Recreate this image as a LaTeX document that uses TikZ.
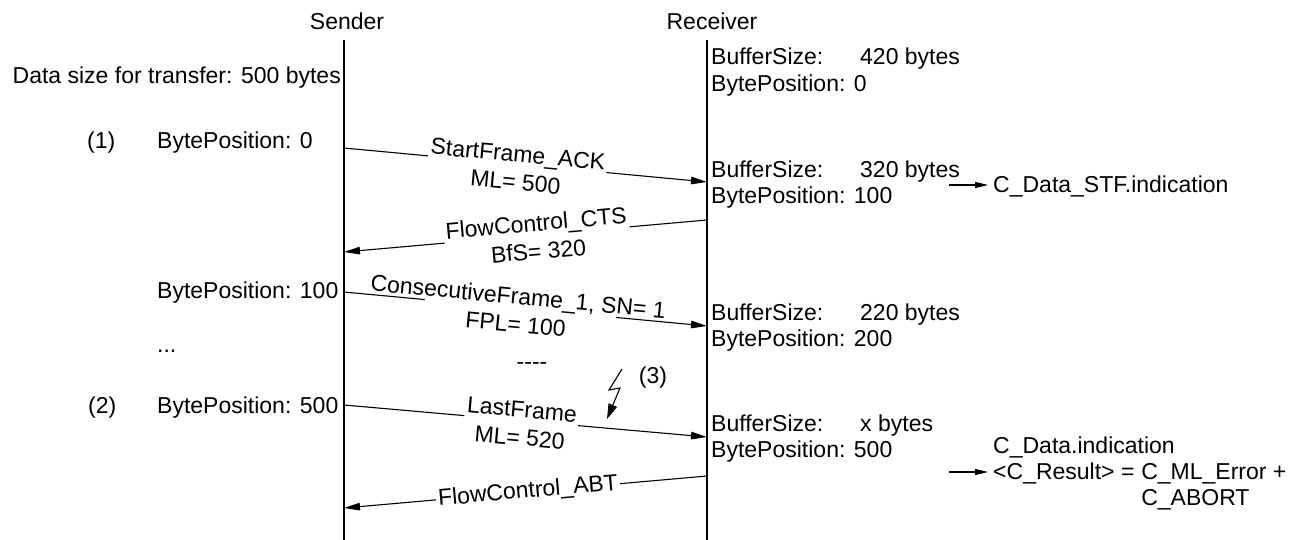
\documentclass[tikz,border=0pt]{standalone}
\usepackage{fontspec}
\setmainfont{Liberation Sans}
\usetikzlibrary{arrows.meta}
\newcommand{\bufline}[1]{\makebox[149pt][l]{BufferSize:}#1}
\begin{document}
\begin{tikzpicture}[x=1pt,y=-1pt,
  txt/.style={inner sep=0pt, font=\fontsize{23}{26}\selectfont},
  lab/.style={sloped, fill=white, inner sep=2pt, align=center, font=\fontsize{23}{26}\selectfont},
  life/.style={line width=1.8pt},
  msg/.style={line width=1.1pt, -{Triangle[length=16pt,width=7.5pt]}},
  ind/.style={line width=1.1pt, -{Triangle[length=13pt,width=6pt]}},
  bolt/.style={line width=1.1pt, -{Triangle[length=15pt,width=9pt]}}
]
\useasboundingbox (0,0) rectangle (1303,540);

% lifelines
\coordinate (sT) at (344,40); \coordinate (sB) at (344,540);
\coordinate (rT) at (707,40); \coordinate (rB) at (707,540);
\draw[life] (sT) -- (sB);
\draw[life] (rT) -- (rB);
\node[txt, anchor=base] (sender) at (347,30) {Sender};
\node[txt, anchor=base] (receiver) at (712,30) {Receiver};

% sender side texts
\node[txt, anchor=base east] (datasize) at (341,84) {Data size for transfer: 500 bytes};
\node[txt, anchor=base west] (n1) at (87,149) {(1)};
\node[txt, anchor=base west] (bp0) at (157,149) {BytePosition: 0};
\node[txt, anchor=base west] (bp100) at (157,298) {BytePosition: 100};
\node[txt, anchor=base west] (dots) at (157,352) {...};
\node[txt, anchor=base west] (n2) at (88,413) {(2)};
\node[txt, anchor=base west] (bp500) at (157,413) {BytePosition: 500};

% receiver side texts
\node[txt, anchor=base west] (r1a) at (711,65) {\bufline{420 bytes}};
\node[txt, anchor=base west] (r1b) at (711,92) {BytePosition: 0};
\node[txt, anchor=base west] (r2a) at (711,178) {\bufline{320 bytes}};
\node[txt, anchor=base west] (r2b) at (711,204) {BytePosition: 100};
\node[txt, anchor=base west] (r3a) at (711,320) {\bufline{220 bytes}};
\node[txt, anchor=base west] (r3b) at (711,346) {BytePosition: 200};
\node[txt, anchor=base west] (r4a) at (711,431) {\bufline{x bytes}};
\node[txt, anchor=base west] (r4b) at (711,457) {BytePosition: 500};

% indications
\coordinate (i1s) at (949,185); \coordinate (i1e) at (988,185);
\draw[ind] (i1s) -- (i1e);
\node[txt, anchor=base west] (stf) at (993,193) {C\_Data\_STF.indication};
\node[txt, anchor=base west] (cdi) at (993,453) {C\_Data.indication};
\node[txt, anchor=base west] (cres) at (993,479) {<C\_Result> =};
\node[txt, anchor=base west] (cml) at ([xshift=6.4pt]cres.base east) {C\_ML\_Error +};
\node[txt, anchor=base west] (cab) at ([yshift=-26pt]cml.base west) {C\_ABORT};
\coordinate (i2s) at (949,472); \coordinate (i2e) at (988,472);
\draw[ind] (i2s) -- (i2e);

% message anchors on lifelines
\coordinate (s1) at (344,148); \coordinate (r1) at (707,182);
\coordinate (r2) at (707,220); \coordinate (s2) at (344,252);
\coordinate (s3) at (344,292); \coordinate (r3) at (707,326);
\coordinate (s4) at (344,405); \coordinate (r4) at (707,437);
\coordinate (r5) at (707,476); \coordinate (s5) at (344,508);

\draw[msg] (s1) -- (r1) node[lab, pos=0.477, yshift=-4pt] (m1) {StartFrame\_ACK\\[2pt]ML= 500};
\draw[msg] (r2) -- (s2) node[lab, pos=0.468, yshift=-2pt] (m2) {FlowControl\_CTS\\[2pt]BfS= 320};
\draw[msg] (s3) -- (r3)
  node[sloped, pos=0.486, fill=white, minimum width=192pt, minimum height=9pt, inner sep=0pt] (m3w) {}
  node[lab, fill=none, pos=0.477, yshift=-2pt] (m3) {ConsecutiveFrame\_1, SN= 1\\[2pt]FPL= 100};
\draw[msg] (s4) -- (r4) node[lab, pos=0.488, yshift=-3pt] (m4) {LastFrame\\[2pt]ML= 520};
\draw[msg] (r5) -- (s5) node[lab, pos=0.493] (m5) {FlowControl\_ABT};

% gap marker and disturbance
\node[txt] (gap) at (532,366) {-{}-{}-{}-};
\coordinate (l0) at (622,369); \coordinate (l1) at (609,390);
\coordinate (l2) at (620,388); \coordinate (l3) at (607,419);
\draw[bolt] (l0) -- (l1) -- (l2) -- (l3);
\node[txt] (n3) at (653,378) {(3)};
\end{tikzpicture}
\end{document}
